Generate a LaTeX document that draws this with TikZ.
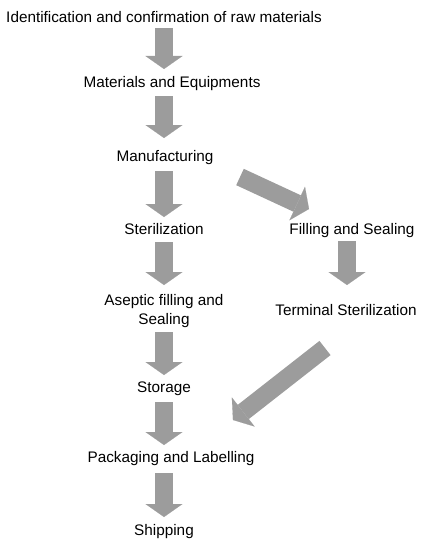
\documentclass[tikz,border=0pt]{standalone}
\usepackage{fontspec}
\setmainfont{Liberation Sans}
\usetikzlibrary{arrows.meta,calc}
\definecolor{arrgray}{RGB}{156,156,156}
\begin{document}
\begin{tikzpicture}[x=1pt,y=-1pt,
  lbl/.style={inner sep=0pt, anchor=base, font=\fontsize{15.3}{19}\selectfont, align=center},
  blk/.style={draw=arrgray, line width=18pt, line cap=butt,
    -{Triangle[width=37pt,length=13pt,line width=0.1pt,fill=arrgray,color=arrgray]}}]
\useasboundingbox (0,0) rectangle (421,543);
\node[lbl] (n1) at (164,23) {Identification and confirmation of raw materials};
\node[lbl] (n2) at (172,88) {Materials and Equipments};
\node[lbl] (n3) at (165,161) {Manufacturing};
\node[lbl] (n4) at (164,234) {Sterilization};
\node[lbl] (n5) at (164,324) {Aseptic filling and\\Sealing};
\node[lbl] (n6) at (164,392) {Storage};
\node[lbl] (n7) at (171,462) {Packaging and Labelling};
\node[lbl] (n8) at (164,535) {Shipping};
\node[lbl] (r1) at (352,234) {Filling and Sealing};
\node[lbl] (r2) at (346,315) {Terminal Sterilization};
\draw[blk] ($(n1.base -| n4.base)+(0,5)$) -- ($(n2.base -| n4.base)+(0,-19)$);
\draw[blk] ($(n2.base -| n4.base)+(0,8)$) -- ($(n3.base -| n4.base)+(0,-23)$);
\draw[blk] ($(n3.base -| n4.base)+(0,10)$) -- ($(n4.base)+(0,-17)$);
\draw[blk] ($(n4.base)+(0,8)$) -- ($(n5.base -| n4.base)+(0,-39)$);
\draw[blk] ($(n5.base -| n4.base)+(0,8)$) -- ($(n6.base -| n4.base)+(0,-17)$);
\draw[blk] ($(n6.base -| n4.base)+(0,10)$) -- ($(n7.base -| n4.base)+(0,-17)$);
\draw[blk] ($(n7.base -| n4.base)+(0,11)$) -- ($(n8.base -| n4.base)+(0,-18)$);
\draw[blk] ($(r1.base -| 347,0)+(0,7)$) -- ($(r2.base -| 347,0)+(0,-30)$);
\draw[blk] ($(n3.base)+(75,16)$) -- ($(r1.base)+(-43,-25)$);
\draw[blk] ($(r2.base)+(-21,33)$) -- ($(n7.base)+(62,-42)$);
\end{tikzpicture}
\end{document}
